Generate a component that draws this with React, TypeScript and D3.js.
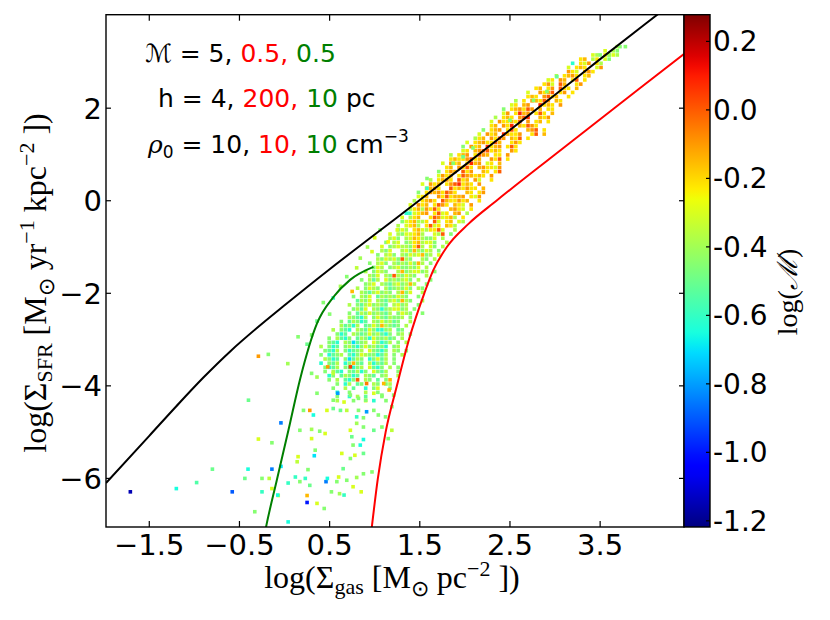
import React from 'react';
import * as d3 from 'd3';

const W = 830, H = 620;
const PLOT = { left: 106, right: 684, top: 14.7, bottom: 527 };
const CBAR = { left: 684, right: 710 };
const X_DOMAIN: [number, number] = [-1.98, 4.43];
const Y_DOMAIN: [number, number] = [-7.05, 4.02];
const M_DOMAIN: [number, number] = [-1.218, 0.278];

const X_TICKS = [-1.5, -0.5, 0.5, 1.5, 2.5, 3.5];
const Y_TICKS = [2, 0, -2, -4, -6];
const CB_TICKS = [0.2, 0.0, -0.2, -0.4, -0.6, -0.8, -1.0, -1.2];

// model curves (log Σgas, log ΣSFR)
const blackX = [-1.98, -1.5, -1.2, -0.9, -0.6, -0.3, 0.0, 0.5, 1.0, 1.5, 2.0, 2.5, 3.0, 3.5, 4.0, 4.2];
const blackY = [-6.10, -5.08, -4.44, -3.82, -3.25, -2.74, -2.26, -1.48, -0.73, 0.015, 0.77, 1.53, 2.29, 3.06, 3.82, 4.12];
const redX = [0.953, 0.968, 1.035, 1.121, 1.246, 1.38, 1.55, 1.65, 1.80, 2.04, 2.35, 3.0, 3.94, 4.43];
const redY = [-7.3, -7.05, -6.0, -5.0, -4.0, -3.0, -2.0, -1.5, -1.0, -0.5, 0.0, 1.0, 2.43, 3.17];
const greenX = [-0.23, -0.205, -0.086, 0.043, 0.173, 0.36, 0.542, 0.727, 0.986];
const greenY = [-7.3, -7.05, -6.04, -4.96, -3.85, -2.65, -2.08, -1.71, -1.43];

// Dense cloud read off as a raster of cells: [log ΣSFR of the row, first column, cell codes]
// column k sits at log Σgas = k * CELL; '.' is an empty cell
const CELL = 0.045;
const CODE_VALUES: Record<string, number> = {
  r: 0.08, R: 0.0, o: -0.1, O: -0.15, y: -0.22, Y: -0.3, l: -0.38, g: -0.45,
  G: -0.52, c: -0.62, C: -0.7, b: -0.85, B: -1.0, n: -1.15,
};
const cloudRows: [number, number, string][] = [
  [3.33, 82, 'l.g'],
  [3.24, 79, 'Y.lg.'],
  [3.15, 75, '.Yl.ygYl.'],
  [3.06, 73, 'yO.ly.Yg'],
  [2.97, 71, 'c.yYo.yl'],
  [2.88, 70, 'Y.yOy..Yo'],
  [2.79, 69, '.oyY.Ooy'],
  [2.70, 67, 'l.yOoy.yO'],
  [2.61, 65, 'Yy.oO.yR.y'],
  [2.52, 63, '.yoY.RO..yo'],
  [2.43, 62, 'yO.yo.Ryy.O'],
  [2.34, 60, 'Y..oyOR.yo.y'],
  [2.25, 59, '.yOy.oRyO..y'],
  [2.16, 57, 'l.y.oOyRo.Oy'],
  [2.07, 56, 'Yy.Oo..ryOy.o'],
  [1.98, 54, 'g.yOoyRo.O.yy.'],
  [1.89, 53, '.Yo.yrOo.yRy.O'],
  [1.80, 52, 'l.yOy.oRr..Oyo'],
  [1.71, 51, 'Y.oyyOyR.o.yO.y'],
  [1.62, 50, '.yO.oyr.OyRoy..'],
  [1.53, 49, 'g.yOo.yRy..OoR.y'],
  [1.44, 48, 'Y.oyO.rOyyo..yR.O'],
  [1.35, 46, '.lyO.oyRo.OyR.y'],
  [1.26, 45, 'Y.yOoyyRO..yoy'],
  [1.17, 44, 'g.oyO.ryOo.yRy.'],
  [1.08, 43, '.Yy.OoRRyOy..oy'],
  [0.99, 41, 'l.yOo.yRoO.yy.o'],
  [0.90, 40, '.yOyyoRyO..oyR.y'],
  [0.81, 39, 'Y.oyO.yrOo.Yy.O.'],
  [0.72, 39, '.yO.oyRy.OoyyYo'],
  [0.63, 38, 'g.yoO.Ryo..Oy.yR'],
  [0.54, 37, '.YoyO.yRoOyOy.o'],
  [0.45, 36, 'l.yOoy.RyO.oY..y'],
  [0.36, 34, 'Y.oyO.yoRryOy.o.'],
  [0.27, 34, '.yOoy..RyOyoyy.O'],
  [0.18, 33, 'g.yoOoyRoy..Oy.yo'],
  [0.09, 32, '.YyO..oyRyOOo.yYo'],
  [0.00, 32, 'l.yOoy.ROyyoyO..y'],
  [-0.09, 31, 'Y.oyO.yRoy.OyY.o'],
  [-0.18, 30, '.lyOloyRy..OoyY.y'],
  [-0.27, 30, 'c.YyOo.yRYy.Oo.l'],
  [-0.36, 29, 'Y.lyO..yRoYyOl.y'],
  [-0.45, 28, '.gYyOlly.RY.yO.Yl'],
  [-0.54, 28, 'l.YyOl.yRYy.Oyl.'],
  [-0.63, 27, '.gYl.yOYlyyRY..l'],
  [-0.72, 26, 'Y.lgYYyOl..YlR.g'],
  [-0.81, 25, '.lYg.lYOylggY.l.'],
  [-0.90, 25, 'g.lY.glyOlYYg..l'],
  [-0.99, 24, 'Y.glYllgyRl.Yg.l'],
  [-1.08, 23, '.lgY..lYgOlgYl.g'],
  [-1.17, 23, 'g.lYg.lgYlYOgl.Y'],
  [-1.26, 22, '.lgYlYgRlg..lg.l'],
  [-1.35, 21, 'g.lYg.lglgYgOl.g.'],
  [-1.44, 21, '.gYl.glYgglgY.l..'],
  [-1.53, 20, 'l.gYlg..lOglYYgl.g'],
  [-1.62, 20, '.lgY.lgRlgYlg..l.'],
  [-1.71, 19, 'g.lGl.YglglYg.l..g'],
  [-1.80, 19, '.glY.lgGlYglOl..g'],
  [-1.89, 18, 'l.gYlg.lGglgYg.lg.'],
  [-1.98, 18, '.lgGlYglg.lOgY..l'],
  [-2.07, 17, 'g.lgY.GlglgYlg..g.'],
  [-2.16, 17, '.GlgY.lgGlYgOlg..l'],
  [-2.25, 16, 'l.gGlYglgG.lYgl..g'],
  [-2.34, 16, '.glGY.lgcglYYgl.g.'],
  [-2.43, 16, 'g.GlgYglgGl.gYlg..g'],
  [-2.52, 15, '.lgGcl.gYgGlggl.g..'],
  [-2.61, 14, 'g.GlgcG.lgYglGg..l.'],
  [-2.70, 13, '.lGgcl.GgYgOlgGg.l..'],
  [-2.79, 12, 'l.gGc.lgGYgccgl.Gg..'],
  [-2.88, 12, '.gcG.lgGgYglGcg.gl.g'],
  [-2.97, 11, 'g.lGcg.GlgcYgglGg.l..'],
  [-3.06, 10, '.gGc.lgCGgl.YgcGl.g.l.'],
  [-3.15, 9, 'l.gcG.glGcgYglGgc.gl..'],
  [-3.24, 9, '.gGcl.gcGgl.YgGcg.lg.g'],
  [-3.33, 9, 'g.cGgl.GcgYlggcGl.g.l'],
  [-3.42, 9, '.lgcG.gCGlg.cgYGl.g..'],
  [-3.51, 9, 'c.gGl.cgOgG.lcgGl.g.'],
  [-3.60, 9, '.gcGl.gGcgl.YGcg.l.g'],
  [-3.69, 10, 'g.lGc.gGlcg.YgGl..g'],
  [-3.78, 10, '.cg.GlgcG.lgG.gl..l'],
  [-3.87, 11, 'g.l.GcgR.lg.G.gO.'],
  [-3.96, 12, '.g.cl.Gg..lg.gl.'],
  [-4.05, 12, 'g..l.G..c.gY..g'],
  [-4.14, 12, '.c..g...l..g...'],
  [-4.23, 12, '.g..c.l.G...g.'],
  [-4.32, 13, 'l...g..Y.c..g'],
];

// isolated points: [log Σgas, log ΣSFR, log Mach]
const fringePoints: number[][] = [
  [0.69, -1.64, -0.45], [0.84, -1.24, -0.4], [0.54, -2.1, -0.6], [0.43, -2.2, -0.45], [0.75, -1.96, -0.15],
  [0.97, -1.1, -0.3], [1.15, -0.89, -0.25], [1.06, -0.63, -0.45], [1.25, -0.63, -0.3], [1.39, -0.27, -0.6],
  [1.58, 0.27, -0.6], [0.62, -1.85, -0.4], [0.5, -2.45, -0.45], [0.36, -2.6, -0.5], [0.3, -2.9, -0.45],
  [0.25, -3.1, -0.5], [0.15, -2.94, -0.45], [0.036, -3.52, -0.4], [-0.18, -3.32, -0.45], [-0.29, -3.36, -0.1],
  [0.8, -1.45, -0.35], [0.92, -1.0, -0.4], [1.0, -0.8, -0.3], [1.58, 0.48, -0.45], [1.87, 0.81, -0.45],
  [1.98, 0.95, -0.5], [2.09, 1.14, -0.45], [2.5, 1.74, -0.45], [2.76, 2.17, -0.45], [2.91, 2.36, -0.45],
  [3.02, 2.68, -0.5], [3.5, 3.15, -0.45], [3.6, 3.15, -0.4], [3.72, 3.33, -0.45],
];

const sparsePoints: number[][] = [
  [-1.71, -6.29, -1.15], [-1.2, -6.22, -0.65], [-0.975, -6.09, -0.55], [-0.8, -5.8, -0.5], [-0.58, -6.29, -0.9],
  [-0.405, -5.8, -0.65], [-0.14, -5.8, -0.85], [-0.44, -6.0, -0.5], [-0.25, -6.0, -0.45], [-0.25, -6.29, -0.6],
  [-0.17, -6.0, -0.35], [-0.14, -6.22, -0.3], [-0.07, -6.37, -0.3], [-0.33, -6.72, -0.45], [0.04, -6.1, -0.6],
  [0.04, -6.94, -0.65], [-0.4, -4.31, -0.5], [-0.04, -4.8, -0.85], [-0.29, -5.15, -0.3], [-0.14, -5.23, -0.45],
  [-0.04, -5.74, -0.7], [-0.075, -6.36, -0.65], [0.25, -6.52, -1.0], [0.25, -6.37, -0.15], [0.36, -6.54, -0.3],
  [0.44, -6.65, -0.45], [0.17, -4.96, -0.45], [0.3, -4.94, -0.4], [0.3, -5.14, -0.3], [0.34, -5.39, -0.45],
  [0.33, -5.51, -0.7], [0.15, -5.53, -0.3], [0.14, -5.64, -0.35], [0.26, -5.81, -0.45], [0.12, -5.97, -0.6],
  [0.17, -6.07, -0.45], [0.23, -6.0, -0.6], [0.28, -6.15, -0.5], [0.46, -6.07, -0.85], [0.475, -6.0, -0.65],
  [0.58, -6.07, -0.45], [0.52, -6.29, -0.45], [0.61, -6.33, -0.4], [0.66, -6.36, -0.6], [0.6, -5.97, -0.3],
  [0.69, -6.04, -0.45], [0.76, -6.18, -0.3], [0.85, -6.29, -0.3], [0.8, -5.98, -0.4], [0.875, -5.9, -0.45],
  [0.97, -5.86, -0.45], [0.65, -5.79, -0.5], [0.73, -5.57, -0.45], [0.78, -5.5, -0.3], [0.875, -5.46, -0.5],
  [0.76, -5.28, -0.45], [0.84, -5.28, -0.65], [0.635, -5.46, -0.3], [0.746, -5.1, -0.5], [0.875, -5.16, -0.65],
  [0.99, -4.96, -0.5], [1.08, -4.89, -0.45], [1.15, -5.14, -0.45], [1.19, -4.96, -0.35], [0.875, -4.89, -0.45],
  [0.8, -4.81, -0.4], [0.73, -4.96, -0.3], [0.39, -4.98, -0.45], [0.45, -5.03, -0.3], [0.47, -4.53, -0.3],
  [0.32, -4.63, -0.65], [0.28, -4.53, -0.1], [0.21, -4.53, -0.45], [0.54, -4.49, -0.5], [0.62, -4.53, -0.5],
  [0.69, -4.53, -0.35], [0.82, -4.53, -0.45], [0.91, -4.56, -0.8], [0.99, -4.53, -0.45], [0.875, -4.69, -0.45],
  [0.8, -4.67, -0.6], [1.04, -4.63, -0.45], [1.12, -4.67, -0.45], [1.19, -4.45, -0.45], [0.59, -4.16, -0.8],
  [0.54, -4.31, -0.45], [0.66, -4.35, -0.3], [0.73, -4.2, -0.45], [0.82, -4.27, -0.45], [0.9, -4.31, -0.45],
  [0.99, -4.16, -0.3], [1.08, -4.2, -0.45], [1.16, -4.09, -0.15], [1.21, -4.2, -0.45], [0.36, -4.16, -0.45],
  [0.3, -3.73, -0.45], [0.36, -3.81, -0.4], [0.48, -3.59, -0.1], [0.73, -3.59, 0.05], [0.91, -3.95, -0.05],
  [1.1, -3.95, -0.15], [0.54, -3.73, -0.35],
];

const cloudPoints: number[][] = cloudRows.flatMap(([yv, col, codes]) =>
  codes.split('').flatMap((ch, i) => (ch === '.' ? [] : [[(col + i) * CELL, yv, CODE_VALUES[ch]]]))
);
const scatterPoints: number[][] = [...cloudPoints, ...fringePoints, ...sparsePoints];

// matplotlib "jet" segment data
const jetR = d3.scaleLinear().domain([0, 0.35, 0.66, 0.89, 1]).range([0, 0, 1, 1, 0.5]).clamp(true);
const jetG = d3.scaleLinear().domain([0, 0.125, 0.375, 0.64, 0.91, 1]).range([0, 0, 1, 1, 0, 0]).clamp(true);
const jetB = d3.scaleLinear().domain([0, 0.11, 0.34, 0.65, 1]).range([0.5, 1, 1, 0, 0]).clamp(true);
function jet(t: number): string {
  const c = (v: number) => Math.round(255 * v);
  return `rgb(${c(jetR(t))},${c(jetG(t))},${c(jetB(t))})`;
}

export default function App() {
  const x = d3.scaleLinear().domain(X_DOMAIN).range([PLOT.left, PLOT.right]);
  const y = d3.scaleLinear().domain(Y_DOMAIN).range([PLOT.bottom, PLOT.top]);
  const cb = d3.scaleLinear().domain(M_DOMAIN).range([PLOT.bottom, PLOT.top]);
  const mNorm = d3.scaleLinear().domain(M_DOMAIN).range([0, 1]).clamp(true);
  const mk = (xs: number[], ys: number[]) =>
    d3.line<[number, number]>().x(d => x(d[0])).y(d => y(d[1])).curve(d3.curveMonotoneX)(xs.map((v, i) => [v, ys[i]] as [number, number])) || '';
  const fmtX = d3.format('.1f');
  const fmtY = d3.format('d');
  const fmtCb = (v: number) => (Math.round(v * 10) / 10).toFixed(1).replace('-0.0', '0.0');
  const gradStops = d3.range(0, 1.0001, 0.02);
  const sq = 3.6;
  const sans = 'DejaVu Sans';
  const serif = 'Liberation Serif';
  const tickLen = 6;

  return (
    <svg width={W} height={H} style={{ position: 'absolute', left: 0, top: 0, background: '#fff' }}>
      <defs>
        <clipPath id="plotClip">
          <rect x={PLOT.left} y={PLOT.top} width={PLOT.right - PLOT.left} height={PLOT.bottom - PLOT.top} />
        </clipPath>
        <linearGradient id="jetGrad" x1="0" y1="1" x2="0" y2="0">
          {gradStops.map(t => <stop key={t} offset={t} stopColor={jet(t)} />)}
        </linearGradient>
      </defs>
      <rect x={0} y={0} width={W} height={H} fill="#fff" />

      <g clipPath="url(#plotClip)">
        {scatterPoints.map((p, i) => (
          <rect key={i} x={x(p[0]) - sq / 2} y={y(p[1]) - sq / 2} width={sq} height={sq} fill={jet(mNorm(p[2]))} />
        ))}
        <path d={mk(blackX, blackY)} fill="none" stroke="#000" strokeWidth={2} />
        <path d={mk(redX, redY)} fill="none" stroke="#ff0000" strokeWidth={2} />
        <path d={mk(greenX, greenY)} fill="none" stroke="#007f00" strokeWidth={2} />
      </g>

      <rect x={PLOT.left} y={PLOT.top} width={PLOT.right - PLOT.left} height={PLOT.bottom - PLOT.top} fill="none" stroke="#000" strokeWidth={1.4} />

      {X_TICKS.map(t => (
        <g key={'xt' + t}>
          <line x1={x(t)} x2={x(t)} y1={PLOT.bottom} y2={PLOT.bottom - tickLen} stroke="#000" strokeWidth={1.2} />
          <line x1={x(t)} x2={x(t)} y1={PLOT.top} y2={PLOT.top + tickLen} stroke="#000" strokeWidth={1.2} />
          <text x={x(t)} y={555} textAnchor="middle" fontFamily={sans} fontSize={29} fill="#000">{fmtX(t)}</text>
        </g>
      ))}
      {Y_TICKS.map(t => (
        <g key={'yt' + t}>
          <line x1={PLOT.left} x2={PLOT.left + 5} y1={y(t)} y2={y(t)} stroke="#000" strokeWidth={1.2} />
          <line x1={PLOT.right} x2={PLOT.right - 5} y1={y(t)} y2={y(t)} stroke="#000" strokeWidth={1.2} />
          <text x={102} y={y(t)} dy="0.36em" textAnchor="end" fontFamily={sans} fontSize={29} fill="#000">{fmtY(t)}</text>
        </g>
      ))}

      <text x={392} y={588} textAnchor="middle" fontFamily={serif} fontSize={32} fill="#000">
        log(Σ<tspan fontSize={22} dy={6}>gas</tspan><tspan dy={-6}>{'  '}[M</tspan><tspan fontSize={22} dy={8}>⊙</tspan><tspan dy={-8}>{'  '}pc</tspan><tspan fontSize={22} dy={-12}>−2</tspan><tspan dy={12}>{' '}])</tspan>
      </text>
      <text transform={`translate(46,283) rotate(-90)`} textAnchor="middle" fontFamily={serif} fontSize={32} fill="#000">
        log(Σ<tspan fontSize={22} dy={6}>SFR</tspan><tspan dy={-6}>{'  '}[M</tspan><tspan fontSize={22} dy={8}>⊙</tspan><tspan dy={-8}>{'  '}yr</tspan><tspan fontSize={22} dy={-12}>−1</tspan><tspan dy={12}>{'  '}kpc</tspan><tspan fontSize={22} dy={-12}>−2</tspan><tspan dy={12}>{' '}])</tspan>
      </text>

      <text x={145} y={62} fontFamily={sans} fontSize={25} fill="#000">
        <tspan fontStyle="italic">ℳ</tspan><tspan>{' = 5, '}</tspan><tspan fill="#ff0000">0.5, </tspan><tspan fill="#007f00">0.5</tspan>
      </text>
      <text x={158} y={107} fontFamily={sans} fontSize={25} fill="#000">
        <tspan>{'h = 4, '}</tspan><tspan fill="#ff0000">200, </tspan><tspan fill="#007f00">10</tspan><tspan>{' pc'}</tspan>
      </text>
      <text x={148} y={153} fontFamily={sans} fontSize={25} fill="#000">
        <tspan fontStyle="italic" fontFamily="DejaVu Serif">ρ</tspan><tspan fontSize={17} dy={5}>0</tspan><tspan dy={-5}>{'  = 10, '}</tspan><tspan fill="#ff0000">10, </tspan><tspan fill="#007f00">10</tspan><tspan>{' cm'}</tspan><tspan fontSize={17} dy={-11}>−3</tspan>
      </text>

      <rect x={CBAR.left} y={PLOT.top} width={CBAR.right - CBAR.left} height={PLOT.bottom - PLOT.top} fill="url(#jetGrad)" stroke="#000" strokeWidth={1.4} />
      {CB_TICKS.map(t => (
        <g key={'cb' + t}>
          <line x1={CBAR.right} x2={CBAR.right - 4} y1={cb(t)} y2={cb(t)} stroke="#000" strokeWidth={1.2} />
          <text x={713} y={cb(t)} dy="0.36em" fontFamily={sans} fontSize={28} fill="#000">{fmtCb(t)}</text>
        </g>
      ))}
      <text transform={`translate(797,292) rotate(-90)`} textAnchor="middle" fontFamily={serif} fontSize={28} fill="#000">
        log(<tspan fontStyle="italic">ℳ</tspan>)
      </text>
    </svg>
  );
}
